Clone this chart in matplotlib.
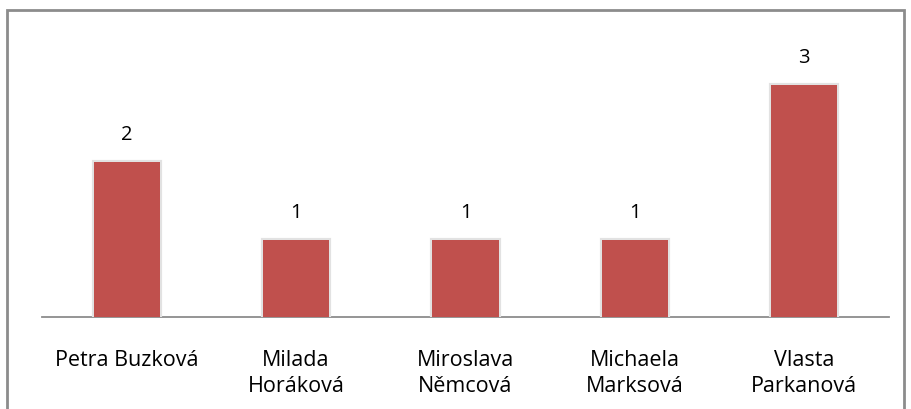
import matplotlib
matplotlib.use('Agg')
import matplotlib.pyplot as plt
import matplotlib.patheffects as pe
from matplotlib.patches import Rectangle

names = ['Petra Buzková', 'Milada\nHoráková', 'Miroslava\nNěmcová', 'Michaela\nMarksová', 'Vlasta\nParkanová']
counts = [2, 1, 1, 1, 3]

plt.rcParams['font.family'] = ['Open Sans', 'DejaVu Sans']

fig = plt.figure(figsize=(9.11, 4.10), dpi=100)

# outer frame of the chart (cut at the bottom like in the picture)
fig.patches.append(Rectangle((7 / 911, -0.05), 897 / 911, (410 - 11) / 410 + 0.05,
                             transform=fig.transFigure, fill=False,
                             edgecolor='#8c8c8c', linewidth=2))

ax = fig.add_axes([42 / 911, 92 / 410, 847 / 911, (318 - 47.5) / 410])

x = range(len(names))
bars = ax.bar(x, counts, width=0.39, color='#c0504d', zorder=3)
for b in bars:
    b.set_path_effects([pe.Stroke(linewidth=3, foreground='#e2e2e2'), pe.Normal()])

for xi, v in zip(x, counts):
    ax.annotate(str(v), (xi, v), xytext=(0, 28), textcoords='offset pixels',
                ha='center', va='center', fontsize=14.5, color='black')

ax.set_xlim(-0.5, len(names) - 0.5)
ax.set_ylim(0, 3.5)
ax.set_xticks(list(x))
ax.set_xticklabels(names, fontsize=15.5, linespacing=1.3)
ax.tick_params(axis='x', length=0, pad=23)
ax.set_yticks([])
for s in ['top', 'right', 'left']:
    ax.spines[s].set_visible(False)
ax.spines['bottom'].set_color('#8c8c8c')
ax.spines['bottom'].set_linewidth(1.3)

fig.savefig('out.png', dpi=100)
